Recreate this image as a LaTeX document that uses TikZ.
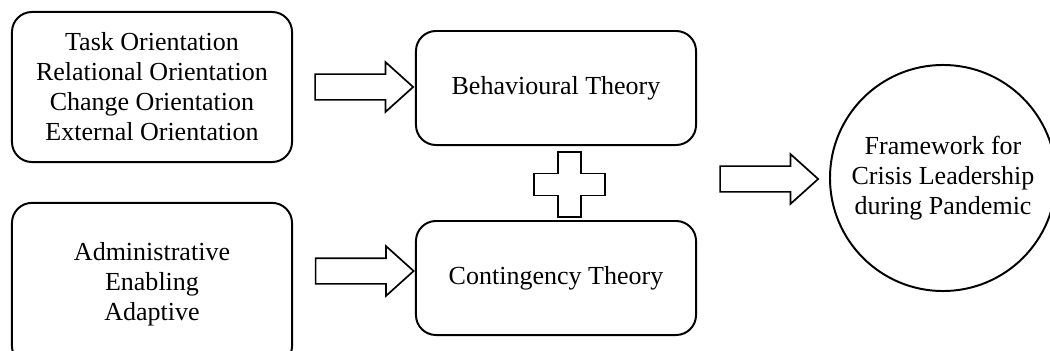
\documentclass[tikz,border=0pt]{standalone}
\usepackage{fontspec}
\setmainfont{Liberation Serif}
\usetikzlibrary{shapes.arrows}

\begin{document}
\begin{tikzpicture}[x=0.025cm,y=0.025cm,
    box/.style={draw,line width=1.4pt,rounded corners=0.5cm,align=center,
      minimum width=7cm,inner sep=0pt},
    bigarrow/.style={draw,single arrow,line width=1.2pt,minimum height=2.45cm,
      inner xsep=0pt,inner ysep=0.3cm,text height=0pt,text depth=0pt,
      single arrow head extend=0.3cm,single arrow tip angle=84},
    every node/.append style={font=\fontsize{18.5}{21.3}\selectfont}]
      \useasboundingbox (0,0) rectangle (1050,350);

      \node[box,minimum height=3.75cm] (task) at (152,263)
        {Task Orientation\\Relational Orientation\\Change Orientation\\External Orientation};
      \node[box,minimum height=4.08cm] (admin) at (152,65.5)
        {Administrative\\Enabling\\Adaptive};
      \node[box,minimum height=2.85cm] (behav) at (556,262) {Behavioural Theory};
      \node[box,minimum height=2.85cm] (conti) at (556,72) {Contingency Theory};
      \node[draw,circle,line width=1.4pt,minimum size=5.65cm,inner sep=0pt,align=center]
        (frame) at (943,172) {Framework for\\Crisis Leadership\\during Pandemic};

      \node[bigarrow] (arrA) at (357,263) {};
      \node[bigarrow] (arrB) at (357.5,79) {};
      \node[bigarrow] (arrC) at (762,171) {};

      \coordinate (plus) at (569.5,165.5);
      \draw[line width=1.2pt] (plus) ++(-11.5,32.5) -- ++(23,0) -- ++(0,-21.5) -- ++(24,0)
        -- ++(0,-22) -- ++(-24,0) -- ++(0,-21.5) -- ++(-23,0) -- ++(0,21.5) -- ++(-24,0)
        -- ++(0,22) -- ++(24,0) -- cycle;
    \end{tikzpicture}
\end{document}
